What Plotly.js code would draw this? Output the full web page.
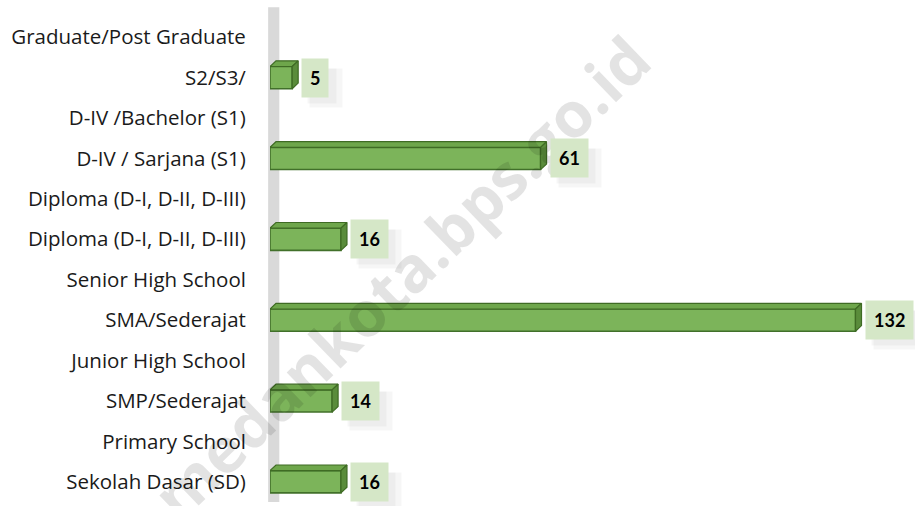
<!DOCTYPE html>
<html>
<head>
<meta charset="utf-8">
<script src="https://cdn.plot.ly/plotly-3.0.1.min.js"></script>
<style>html,body{margin:0;padding:0;background:#fff;}#chart{width:915px;height:506px;}</style>
</head>
<body>
<div id="chart"></div>
<script>
// Row labels, top to bottom (Indonesian category rows carry the values; English rows are empty)
var rowLabels = [
  "Graduate/Post Graduate",
  "S2/S3/",
  "D-IV /Bachelor (S1)",
  "D-IV / Sarjana (S1)",
  "Diploma (D-I, D-II, D-III)",
  "Diploma (D-I, D-II, D-III)",
  "Senior High School",
  "SMA/Sederajat",
  "Junior High School",
  "SMP/Sederajat",
  "Primary School",
  "Sekolah Dasar (SD)"
];
var barRows = [1, 3, 5, 7, 9, 11];
var barValues = [5, 61, 16, 132, 14, 16];
var watermarkText = "medankota.bps.go.id";

var rowIdx = rowLabels.map(function(_, i){ return i; });
var depthX = 1.35;   // 3D depth in value units (horizontal)
var depthY = 0.14;   // 3D depth in row units (vertical)
var barW = 0.55;
var h = barW / 2;

var traces = [];
// 3D faces (top and right side) built from the same values
barRows.forEach(function(r, i){
  var v = barValues[i];
  traces.push({
    type: 'scatter', mode: 'lines', fill: 'toself',
    x: [0, depthX, v + depthX, v, 0],
    y: [r - h, r - h - depthY, r - h - depthY, r - h, r - h],
    fillcolor: '#6ea64b', line: {color: '#3f6b24', width: 1.2},
    hoverinfo: 'skip', showlegend: false
  });
  traces.push({
    type: 'scatter', mode: 'lines', fill: 'toself',
    x: [v, v + depthX, v + depthX, v, v],
    y: [r - h, r - h - depthY, r + h - depthY, r + h, r - h],
    fillcolor: '#5a8c3b', line: {color: '#3f6b24', width: 1.2},
    hoverinfo: 'skip', showlegend: false
  });
});
traces.push({
  type: 'bar', orientation: 'h',
  y: barRows, x: barValues,
  width: barW,
  marker: {color: '#7cb45a', line: {color: '#41702a', width: 1.6}},
  showlegend: false
});

var annotations = [];
annotations.push({
  xref: 'paper', yref: 'paper', x: 0.21, y: 0.465,
  xanchor: 'center', yanchor: 'middle',
  text: '<b>' + watermarkText + '</b>', showarrow: false,
  textangle: -44,
  font: {family: '"Open Sans", Lato, sans-serif', size: 63, color: 'rgba(0,0,0,0.11)'}
});
barRows.forEach(function(r, i){
  var w = String(barValues[i]).length * 10 + 18;
  // soft shadow behind the value box (blank boxes, no text)
  annotations.push({
    x: barValues[i], y: r, xref: 'x', yref: 'y',
    text: ' ', showarrow: false, width: w + 4, height: 38,
    xanchor: 'left', yanchor: 'middle', xshift: 17, yshift: -10,
    bgcolor: 'rgba(0,0,0,0.035)', borderpad: 0
  });
  annotations.push({
    x: barValues[i], y: r, xref: 'x', yref: 'y',
    text: ' ', showarrow: false, width: w, height: 34,
    xanchor: 'left', yanchor: 'middle', xshift: 15, yshift: -8,
    bgcolor: 'rgba(0,0,0,0.035)', borderpad: 0
  });
  annotations.push({
    x: barValues[i], y: r, xref: 'x', yref: 'y',
    text: '<b>' + barValues[i] + '</b>', showarrow: false,
    xanchor: 'left', yanchor: 'middle', xshift: 9, yshift: 0,
    bgcolor: '#d5e7c7', borderpad: 8,
    font: {family: 'Lato, sans-serif', size: 18, color: '#000'}
  });
});

var layout = {
  width: 915, height: 506,
  margin: {l: 270, r: 24, t: 17, b: 4},
  paper_bgcolor: '#ffffff', plot_bgcolor: 'rgba(0,0,0,0)',
  barmode: 'overlay',
  xaxis: {range: [0, 140], showgrid: false, zeroline: false, showticklabels: false, showline: false, ticks: ''},
  yaxis: {
    range: [11.5, -0.5], tickmode: 'array', tickvals: rowIdx, ticktext: rowLabels,
    showgrid: false, zeroline: false, showline: false,
    ticks: 'outside', ticklen: 19, tickcolor: 'rgba(0,0,0,0)',
    tickfont: {family: '"Open Sans", sans-serif', size: 20.5, color: '#1a1a1a'},
    automargin: false
  },
  shapes: [{
    type: 'rect', xref: 'paper', yref: 'paper', layer: 'below',
    x0: -0.003, x1: 0.015, y0: 0, y1: 1.02,
    fillcolor: '#d9d9d9', line: {width: 0}
  }],
  annotations: annotations
};
Plotly.newPlot('chart', traces, layout, {displayModeBar: false, staticPlot: true});
</script>
</body>
</html>
